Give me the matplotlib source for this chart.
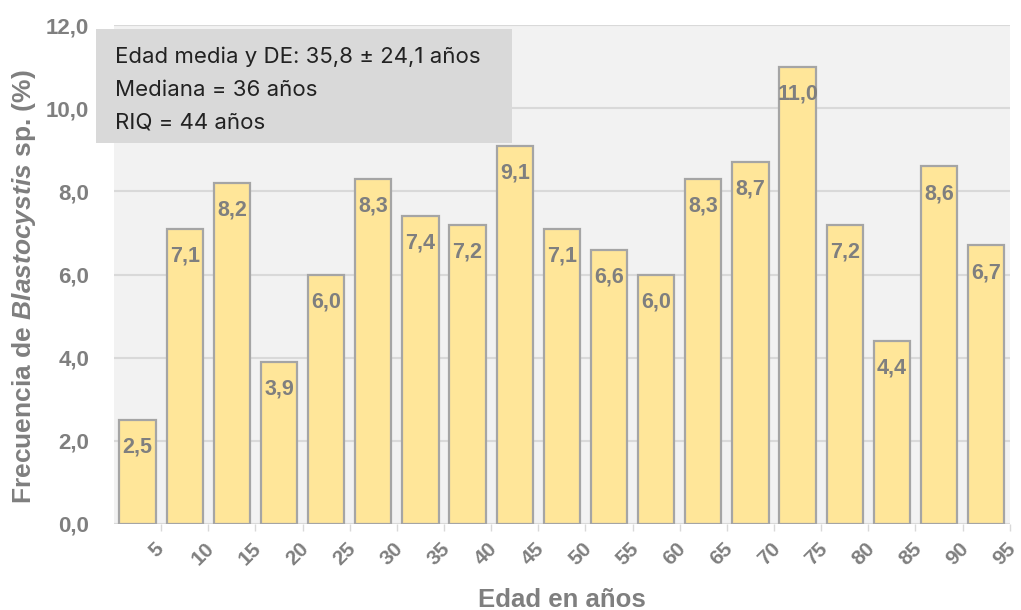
import matplotlib.pyplot as plt
import matplotlib.transforms as mtransforms
from matplotlib.patches import Rectangle

# datos de frecuencia por grupo de edad
edades = ['5', '10', '15', '20', '25', '30', '35', '40', '45', '50',
          '55', '60', '65', '70', '75', '80', '85', '90', '95']
frecuencia = [2.5, 7.1, 8.2, 3.9, 6.0, 8.3, 7.4, 7.2, 9.1, 7.1,
              6.6, 6.0, 8.3, 8.7, 11.0, 7.2, 4.4, 8.6, 6.7]
resumen = ['Edad media y DE: 35,8 ± 24,1 años',
           'Mediana = 36 años',
           'RIQ = 44 años']

plt.rcParams['font.family'] = ['Liberation Sans', 'DejaVu Sans']
plt.rcParams['mathtext.fontset'] = 'custom'
plt.rcParams['mathtext.rm'] = 'Liberation Sans:bold'
plt.rcParams['mathtext.bfit'] = 'Liberation Sans:italic:bold'

gris = '#7f7f7f'

fig = plt.figure(figsize=(10.21, 6.10), dpi=100)
ax = fig.add_axes([0.1117, 0.141, 0.8773, 0.818])
ax.set_facecolor('#f2f2f2')

pos = [i + 0.5 for i in range(len(frecuencia))]
bars = ax.bar(pos, frecuencia, width=0.77, color='#ffe699',
              edgecolor='#a5a5a5', linewidth=1.6, zorder=3)

for b, v in zip(bars, frecuencia):
    ax.annotate(f'{v:.1f}'.replace('.', ','),
                (b.get_x() + b.get_width() / 2, v),
                xytext=(0, -12), textcoords='offset points',
                ha='center', va='top', fontsize=15.5, fontweight='bold',
                color=gris, zorder=4)

ax.set_xlim(0, len(frecuencia))
ax.set_ylim(0, 12)
ax.set_yticks([0, 2, 4, 6, 8, 10, 12])
ax.set_yticklabels([f'{t:.1f}'.replace('.', ',') for t in [0, 2, 4, 6, 8, 10, 12]])
ax.yaxis.grid(True, color='#d9d9d9', linewidth=1.5, zorder=0)
ax.set_axisbelow(True)

ax.set_xticks([i + 1 for i in range(len(edades))])
ax.set_xticklabels(edades, rotation=45, ha='center', va='top')

for s in ax.spines.values():
    s.set_visible(False)

ax.tick_params(axis='y', length=0, pad=18, labelsize=16, labelcolor=gris)
ax.tick_params(axis='x', length=5, color='#d9d9d9', width=1, pad=6,
               labelsize=15, labelcolor=gris)
desplaza = mtransforms.ScaledTranslation(-5 / 100, 0, fig.dpi_scale_trans)
for lbl in ax.get_xticklabels():
    lbl.set_transform(lbl.get_transform() + desplaza)
for lbl in ax.get_xticklabels() + ax.get_yticklabels():
    lbl.set_fontweight('bold')

ax.set_ylabel(r'Frecuencia de $\mathbfit{Blastocystis}$ sp. (%)',
              fontsize=19, fontweight='bold', color=gris)
ax.yaxis.set_label_coords(-0.085, 0.475)
ax.set_xlabel('Edad en años', fontsize=18.5, fontweight='bold', color=gris)
ax.xaxis.set_label_coords(0.5, -0.128)

# cuadro de resumen
fig.patches.append(Rectangle((96 / 1021, 1 - 143 / 610), 416 / 1021, 114 / 610,
                             transform=fig.transFigure, facecolor='#d9d9d9',
                             edgecolor='none', zorder=5))
for k, linea in enumerate(resumen):
    fig.text(115 / 1021, 1 - (57 + 32.5 * k) / 610, linea, fontsize=16,
             family=['Inter', 'DejaVu Sans'], color='#222222',
             va='center', ha='left', zorder=6)

fig.savefig('out.png', dpi=100)
